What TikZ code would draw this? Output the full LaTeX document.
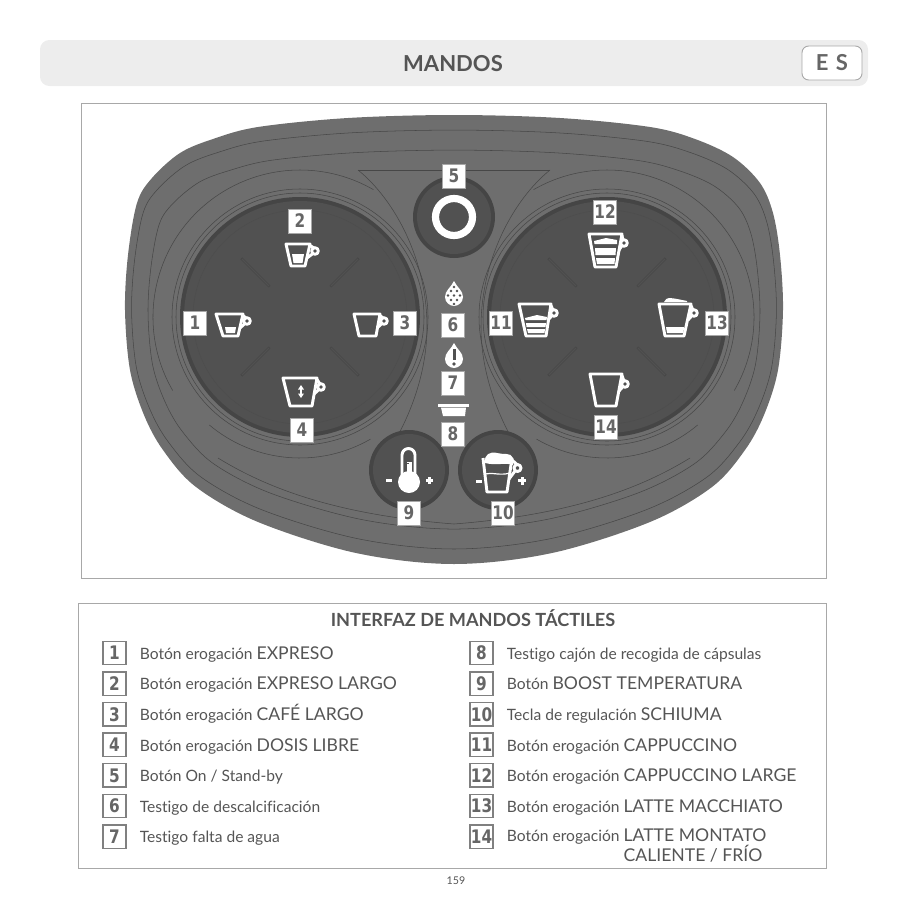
\documentclass[tikz,border=0pt]{standalone}
\usepackage{fontspec}
\setmainfont[Ligatures=NoCommon]{Lato}
\newfontfamily\tagfont[FakeStretch=0.82]{DejaVu Sans}
\usetikzlibrary{positioning}

\definecolor{bodygray}{HTML}{6E6E6E}
\definecolor{dialgray}{HTML}{515151}
\definecolor{rimgray}{HTML}{454545}
\definecolor{linegray}{HTML}{474747}
\definecolor{inkgray}{HTML}{555555}
\definecolor{tagink}{HTML}{666666}
\definecolor{framegray}{HTML}{A8A8A8}

% outline of the panel, in page pixels
\newcommand{\panelpath}{plot[smooth cycle, tension=0.55] coordinates {
    (454,115) (560,118) (650,127) (695,139) (733,157) (760,183) (773,213) (780,255) (783,310)
    (778,370) (764,415) (745,450) (712,487) (650,522) (552,553) (454,564) (356,553)
    (258,522) (196,487) (163,450) (144,415) (130,370) (125,310) (128,255) (137,203) (152,178)
    (180,153) (213,139) (258,127) (348,118)}}

% tlx, trx, blx, brx, top, bottom, handle x, handle y
\newcommand{\cupicon}[8]{
    \draw[iconline] (#1,#5) -- (#2,#5) -- (#4,#6) -- (#3,#6) -- cycle;
    \draw[iconline] (#7,#8) circle[radius=3.3];
    \draw[iconline] (#2,#5+1.5) -- (#7-1,#8-3);
    \draw[iconline] (#7-2,#8+2.5) -- (#2-3,#8+7);
}

\tikzset{
    contour/.style={draw=linegray, line width=0.4pt},
    iconline/.style={draw=white, line width=2.2pt, line join=round},
    iconfill/.style={fill=white},
    tagbox/.style={
        draw=framegray, line width=0.6pt, fill=white, inner sep=0pt,
        minimum width=17pt, minimum height=18pt,
        font=\tagfont\bfseries\fontsize{14}{14}\selectfont, text=tagink
    },
    keybox/.style={
        draw=gray, line width=1.1pt, fill=white, inner sep=0pt,
        minimum width=17.5pt, minimum height=17.5pt,
        font=\tagfont\bfseries\fontsize{14}{14}\selectfont, text=tagink
    },
    keytext/.style={
        anchor=west, inner sep=0pt, align=left, text=inkgray,
        font=\fontsize{11.7}{14.25}\selectfont,
        execute at begin node={\rule[-3.5pt]{0pt}{16.5pt}}
    },
    framebox/.style={draw=framegray, line width=0.7pt},
    waterdrop/.pic={
        \fill[white] (0,-12.5) .. controls (-3,-6) and (-9,-3) .. (-9,3.5)
            .. controls (-9,9) and (-4,12.5) .. (0,12.5)
            .. controls (4,12.5) and (9,9) .. (9,3.5)
            .. controls (9,-3) and (3,-6) .. (0,-12.5) -- cycle;
    }
}
\newcommand{\capstext}[1]{{\fontsize{13.2}{14.25}\selectfont #1}}

\begin{document}
\begin{tikzpicture}[x=0.75pt, y=-0.75pt, node distance=4.35pt and 9.5pt]
\useasboundingbox (0,0) rectangle (907,907);

% Header
\fill[black!7, rounded corners=7pt] (40,40) rectangle (868,86);
\node[font=\bfseries\fontsize{16.5}{16.5}\selectfont, text=inkgray] (title) at (453,64) {MANDOS};
\node[draw=framegray, line width=0.7pt, fill=white, rounded corners=5pt, minimum width=45pt, minimum height=25.5pt,
    inner sep=0pt, font=\bfseries\fontsize{16.5}{16.5}\selectfont, text=tagink] (lang) at (832,63) {E\,\,S};

% Panel
\draw[framebox] (81,103) rectangle (826,578);
\fill[bodygray] \panelpath;
\begin{scope}[shift={(454,340)}, xscale=0.98, yscale=0.933, shift={(-454,-340)}]
    \draw[contour] \panelpath;
\end{scope}
\begin{scope}[shift={(454,340)}, xscale=0.93, yscale=0.844, shift={(-454,-340)}]
    \draw[contour] \panelpath;
\end{scope}

% Dials
\foreach \cx in {300, 607} {
    \draw[contour] (\cx,317) circle[radius=128];
    \draw[contour] (\cx,317) circle[radius=124];
    \fill[rimgray] (\cx,317) circle[radius=120];
    \fill[dialgray] (\cx,317) circle[radius=116];
    \draw[contour, draw=linegray!40!dialgray] (\cx,317) circle[radius=107];
    \foreach \ang in {45,135,225,315} {
        \draw[line width=1.9pt, draw=black!72] (\cx,317) ++(\ang:43) -- ++(\ang:40);
        \draw[line width=0.9pt, draw=dialgray] (\cx,317) ++(\ang:44) -- ++(\ang:38);
    }
}
% Arcs over the dials
\draw[contour] (300,317) ++(150:147) arc (150:300:147);
\draw[contour] (300,317) ++(130:141) arc (130:60:141);
\draw[contour] (607,317) ++(30:147) arc (30:-120:147);
\draw[contour] (607,317) ++(50:141) arc (50:120:141);

% Lines between the dials
\draw[contour] (358,170) -- (550,170);
\draw[contour] (358,170) .. controls (395,200) and (427,260) .. (427,327) .. controls (427,370) and (412,410) .. (397,437);
\draw[contour] (550,170) .. controls (513,200) and (481,260) .. (481,327) .. controls (481,370) and (496,410) .. (511,437);
\draw[contour] (218,458) .. controls (270,490) and (340,515) .. (454,524) .. controls (568,515) and (638,490) .. (690,458);

% Buttons
\fill[rimgray] (454,217) circle[radius=41];
\fill[dialgray] (454,217) circle[radius=37];
\draw[draw=white, line width=5.4pt] (454,217) circle[radius=18.5];
\foreach \bx in {409,498} {
    \fill[rimgray] (\bx,470) circle[radius=40];
    \fill[dialgray] (\bx,470) circle[radius=36];
}

% Cups on the left dial
\cupicon{216}{243}{223}{238}{314}{336}{247}{321}
\fill[iconfill] (225,327) -- (236,327) -- (235,333) -- (226,333) -- cycle;
\cupicon{286}{310}{291}{305}{244}{266}{315}{251}
\fill[iconfill] (292,254) -- (304,254) -- (302.5,263) -- (293.5,263) -- cycle;
\cupicon{354}{380}{359}{376}{314}{336}{384}{321}
\cupicon{283}{317}{290}{312}{378}{406}{321}{387}
\fill[iconfill] (301,385) -- (304,389.5) -- (298,389.5) -- cycle;
\fill[iconfill] (301,398) -- (304,393.5) -- (298,393.5) -- cycle;
\draw[draw=white, line width=1pt] (301,388) -- (301,395);

% Cups on the right dial
\cupicon{519}{551}{526}{546}{304}{336}{554}{313}
\fill[iconfill] (525,318) -- (537,315) -- (547,317) -- (546.5,320) -- (525.5,320) -- cycle;
\fill[iconfill] (526,323) -- (546,323) -- (545.5,327) -- (526.5,327) -- cycle;
\fill[iconfill] (527,329) -- (545,329) -- (544.5,333) -- (528,333) -- cycle;
\cupicon{589}{622}{595}{616}{234}{267}{624}{243}
\fill[iconfill] (594,241) -- (606,238) -- (617,240) -- (617,244) -- (594.5,244) -- cycle;
\fill[iconfill] (595,248) -- (616,248) -- (615.5,255) -- (595.5,255) -- cycle;
\fill[iconfill] (596,258) -- (615,258) -- (614.5,264) -- (597,264) -- cycle;
\cupicon{659}{691}{665}{684}{304}{336}{694}{313}
\fill[iconfill] (664,302) .. controls (666,296) and (672,298) .. (687,301) -- (687,302) -- cycle;
\fill[iconfill] (666,327) -- (684,327) -- (683.5,333) -- (667,333) -- cycle;
\cupicon{590}{622}{596}{616}{374}{406}{625}{384}

% Indicators
\pic (drop6) at (454,293.5) {waterdrop};
\foreach \dotx/\doty in {451/291, 457/291, 454/287, 448/295.5, 454/295.5, 460/295.5, 451/300, 457/300, 454/304} {
    \fill[dialgray] (\dotx,\doty) circle[radius=1.3];
}
\pic (drop7) at (454,355.5) {waterdrop};
\fill[dialgray] (452.5,349) rectangle (455.5,360);
\fill[dialgray] (454,364) circle[radius=1.8];
\fill[white] (438,404) rectangle (469,406.5);
\fill[white] (441,407.5) -- (466,407.5) -- (465,416) -- (443,416) -- cycle;

% Thermometer
\draw[iconline] (402,478) -- (402,455) arc (180:360:6.5) -- (415,478);
\fill[iconfill] (409,482) circle[radius=11];
\fill[iconfill] (406.5,462) rectangle (411.5,478);
\foreach \ticky in {455,459,463} {
    \fill[dialgray] (405,\ticky) rectangle (409,\ticky+1.4);
}
\fill[iconfill] (386,479) rectangle (392,482);
\fill[iconfill] (426,479) rectangle (433,482);
\fill[iconfill] (428,477) rectangle (431,484);

% Milk cup
\draw[iconline] (483,458) -- (487,492) -- (507,492) -- (512,458);
\fill[iconfill] (485,462) .. controls (484,455) and (490,451) .. (497,453) .. controls (503,455) and (511,452) .. (513,458) -- (513,465) .. controls (505,462) and (497,466) .. (485,463) -- cycle;
\draw[draw=white, line width=0.9pt] (485,474) .. controls (492,472) and (500,476) .. (510,473);
\draw[iconline] (517.5,468) circle[radius=3.5];
\draw[iconline] (512,460) -- (517,464.5);
\draw[iconline] (515,471) -- (509,479);
\fill[iconfill] (476,480) rectangle (482,483);
\fill[iconfill] (518,479) rectangle (526,482);
\fill[iconfill] (520.5,476.5) rectangle (523.5,484.5);

% Number tags
\node[tagbox] (tag1) at (195,323) {1};
\node[tagbox] (tag2) at (300,221) {2};
\node[tagbox] (tag3) at (405,323) {3};
\node[tagbox] (tag4) at (302,430) {4};
\node[tagbox] (tag5) at (454,176) {5};
\node[tagbox] (tag6) at (453,325) {6};
\node[tagbox] (tag7) at (453,383) {7};
\node[tagbox] (tag8) at (453,434) {8};
\node[tagbox] (tag9) at (409,513) {9};
\node[tagbox] (tag10) at (503,513) {10};
\node[tagbox] (tag11) at (501,323) {11};
\node[tagbox] (tag12) at (605,212) {12};
\node[tagbox] (tag13) at (717,323) {13};
\node[tagbox] (tag14) at (606,427) {14};

% Legend
\draw[framebox] (78,603) rectangle (826,868);
\node[font=\bfseries\fontsize{13.6}{13.6}\selectfont, text=inkgray] (legendtitle) at (473,618) {INTERFAZ DE MANDOS TÁCTILES};

\node[keybox] (key1) at (114.5,653) {1};
\node[keybox, below=of key1] (key2) {2};
\node[keybox, below=of key2] (key3) {3};
\node[keybox, below=of key3] (key4) {4};
\node[keybox, below=of key4] (key5) {5};
\node[keybox, below=of key5] (key6) {6};
\node[keybox, below=of key6] (key7) {7};

\node[keybox] (key8) at (481.5,653) {8};
\node[keybox, below=of key8] (key9) {9};
\node[keybox, below=of key9] (key10) {10};
\node[keybox, below=of key10] (key11) {11};
\node[keybox, below=of key11] (key12) {12};
\node[keybox, below=of key12] (key13) {13};
\node[keybox, below=of key13] (key14) {14};

\node[keytext, right=of key1] (text1) {Botón erogación \capstext{EXPRESO}};
\node[keytext, right=of key2] (text2) {Botón erogación \capstext{EXPRESO LARGO}};
\node[keytext, right=of key3] (text3) {Botón erogación \capstext{CAFÉ LARGO}};
\node[keytext, right=of key4] (text4) {Botón erogación \capstext{DOSIS LIBRE}};
\node[keytext, right=of key5] (text5) {Botón On / Stand-by};
\node[keytext, right=of key6] (text6) {Testigo de descalcificación};
\node[keytext, right=of key7] (text7) {Testigo falta de agua};
\node[keytext, right=of key8] (text8) {Testigo cajón de recogida de cápsulas};
\node[keytext, right=of key9] (text9) {Botón \capstext{BOOST TEMPERATURA}};
\node[keytext, right=of key10] (text10) {Tecla de regulación \capstext{SCHIUMA}};
\node[keytext, right=of key11] (text11) {Botón erogación \capstext{CAPPUCCINO}};
\node[keytext, right=of key12] (text12) {Botón erogación \capstext{CAPPUCCINO LARGE}};
\node[keytext, right=of key13] (text13) {Botón erogación \capstext{LATTE MACCHIATO}};
\node[keytext, right=of key14.north east, anchor=north west, yshift=-3pt] (text14) {Botón erogación \capstext{LATTE MONTATO}\\
    \hphantom{Botón erogación }\capstext{CALIENTE / FRÍO}};

\node[font=\fontsize{8}{8}\selectfont, text=inkgray] (pagenum) at (456,881) {159};

\end{tikzpicture}
\end{document}
